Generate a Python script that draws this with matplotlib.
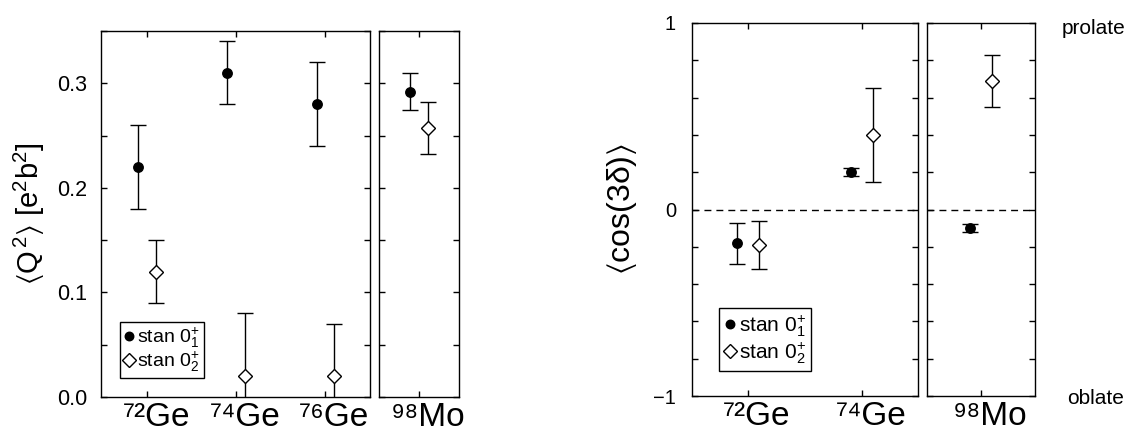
import matplotlib
matplotlib.use('Agg')
import matplotlib.pyplot as plt
import matplotlib.transforms as mtransforms
from matplotlib.ticker import MultipleLocator, FixedLocator, NullLocator
from matplotlib.lines import Line2D

plt.rcParams['font.family'] = ['Liberation Sans', 'DejaVu Sans']
plt.rcParams['mathtext.fontset'] = 'custom'
plt.rcParams['mathtext.rm'] = 'Liberation Sans'
plt.rcParams['mathtext.it'] = 'Liberation Sans:italic'
plt.rcParams['mathtext.default'] = 'regular'

# ---------------- data ----------------
ge_labels_left = ['\u2077\u00b2Ge', '\u2077\u2074Ge', '\u2077\u2076Ge']
mo_labels = ['\u2079\u2078Mo']
ge_labels_right = ['\u2077\u00b2Ge', '\u2077\u2074Ge']

# <Q^2> [e^2 b^2]
q2_ge_s1 = [0.22, 0.31, 0.28]
q2_ge_s1_err = [0.04, 0.03, 0.04]
q2_ge_s2 = [0.12, 0.02, 0.02]
q2_ge_s2_err = [0.03, 0.06, 0.05]
q2_mo_s1 = [0.292]
q2_mo_s1_err = [0.018]
q2_mo_s2 = [0.257]
q2_mo_s2_err = [0.025]

# <cos(3 delta)>
cos_ge_s1 = [-0.18, 0.20]
cos_ge_s1_err = [0.11, 0.02]
cos_ge_s2 = [-0.19, 0.40]
cos_ge_s2_err = [0.13, 0.25]
cos_mo_s1 = [-0.10]
cos_mo_s1_err = [0.02]
cos_mo_s2 = [0.69]
cos_mo_s2_err = [0.14]

legend_labels = [r'stan 0$^{+}_{1}$', r'stan 0$^{+}_{2}$']

# ---------------- style ----------------
OFF = 0.1
MS1, MS2 = 6.8, 7.5
s1_style = dict(fmt='o', color='black', ms=MS1, mfc='black', mec='black',
                ecolor='black', elinewidth=1.0, capsize=5.5, capthick=1.0)
s2_style = dict(fmt='D', color='black', ms=MS2, mfc='white', mec='black', mew=1.0,
                ecolor='black', elinewidth=1.0, capsize=5.5, capthick=1.0)
DASH = (0, (5, 3.6))

fig = plt.figure(figsize=(11.35, 4.33), dpi=100)
W, H = 1135.0, 433.0


def axes_px(x0, x1, ytop, ybot):
    return fig.add_axes([x0 / W, 1 - ybot / H, (x1 - x0) / W, (ybot - ytop) / H])


def style_axes(ax, ysize, ypad):
    ax.tick_params(which='both', direction='in', top=True, right=True,
                   length=4, width=1.0, colors='black')
    ax.tick_params(axis='y', labelsize=ysize, pad=ypad)
    ax.tick_params(axis='x', labelsize=24, pad=3.5)
    for s in ax.spines.values():
        s.set_linewidth(1.0)
    ax.xaxis.set_minor_locator(NullLocator())
    shift = mtransforms.ScaledTranslation(0.09, 0, fig.dpi_scale_trans)
    for lab in ax.get_xticklabels():
        lab.set_transform(lab.get_transform() + shift)


def errplot(ax, xs, ys, es, style):
    ax.errorbar(xs, ys, yerr=es, clip_on=True, **style)


def make_legend(ax, anchor, fs, spacing, bpad):
    h1 = Line2D([], [], ls='none', marker='o', ms=MS1 * 0.9, color='black')
    h2 = Line2D([], [], ls='none', marker='D', ms=MS2 * 0.9, mfc='white',
                mec='black', mew=1.0)
    leg = ax.legend([h1, h2], legend_labels, loc='lower left',
                    bbox_to_anchor=anchor, borderaxespad=0, fontsize=fs,
                    handlelength=0.5, handletextpad=0.2, borderpad=bpad,
                    labelspacing=spacing, fancybox=False, framealpha=1,
                    edgecolor='black')
    leg.get_frame().set_linewidth(1.0)
    return leg

# ---------- left main ----------
axL = axes_px(101, 370, 31, 397)
xg = list(range(1, len(ge_labels_left) + 1))
errplot(axL, [x - OFF for x in xg], q2_ge_s1, q2_ge_s1_err, s1_style)
errplot(axL, [x + OFF for x in xg], q2_ge_s2, q2_ge_s2_err, s2_style)
axL.set_xlim(0.48, 3.5)
axL.set_ylim(0, 0.35)
axL.set_xticks(xg)
axL.set_xticklabels(ge_labels_left)
axL.yaxis.set_major_locator(MultipleLocator(0.1))
axL.yaxis.set_minor_locator(MultipleLocator(0.05))
axL.yaxis.set_major_formatter(plt.FormatStrFormatter('%.1f'))
style_axes(axL, 15.5, 10)
axL.set_ylabel(r'$\langle$Q$^{\,2}\rangle$ [e$^2$b$^2$]', fontsize=21)
axL.yaxis.set_label_coords(-0.20, 0.5)
make_legend(axL, (0.07, 0.052), 14, 0.0, 0.2)

# ---------- left small ----------
axLm = axes_px(379, 459, 31, 397)
errplot(axLm, [-OFF], q2_mo_s1, q2_mo_s1_err, s1_style)
errplot(axLm, [OFF], q2_mo_s2, q2_mo_s2_err, s2_style)
axLm.set_xlim(-0.45, 0.45)
axLm.set_ylim(0, 0.35)
axLm.set_xticks([0])
axLm.set_xticklabels(mo_labels)
axLm.yaxis.set_major_locator(MultipleLocator(0.1))
axLm.yaxis.set_minor_locator(MultipleLocator(0.05))
style_axes(axLm, 15.5, 10)
axLm.tick_params(axis='y', labelleft=False)

# ---------- right main ----------
axR = axes_px(692, 918, 23, 396)
xr = list(range(1, len(ge_labels_right) + 1))
axR.axhline(0, color='black', lw=1.0, ls=DASH, zorder=1)
errplot(axR, [x - OFF for x in xr], cos_ge_s1, cos_ge_s1_err, s1_style)
errplot(axR, [x + OFF for x in xr], cos_ge_s2, cos_ge_s2_err, s2_style)
axR.set_xlim(0.51, 2.49)
axR.set_ylim(-1, 1)
axR.set_xticks(xr)
axR.set_xticklabels(ge_labels_right)
axR.yaxis.set_major_locator(FixedLocator([-1, 0, 1]))
axR.yaxis.set_minor_locator(MultipleLocator(0.2))
axR.yaxis.set_major_formatter(plt.FuncFormatter(
    lambda v, p: '\u2212%d' % abs(v) if v < 0 else '%d' % v))
style_axes(axR, 14.5, 11.5)
axR.set_ylabel(r'$\langle$cos(3$\delta$)$\rangle$', fontsize=23)
axR.yaxis.set_label_coords(-0.235, 0.5)
make_legend(axR, (0.12, 0.067), 15, 0.05, 0.25)

# ---------- right small ----------
axRm = axes_px(927, 1035, 23, 396)
axRm.axhline(0, color='black', lw=1.0, ls=DASH, zorder=1)
errplot(axRm, [-OFF], cos_mo_s1, cos_mo_s1_err, s1_style)
errplot(axRm, [OFF], cos_mo_s2, cos_mo_s2_err, s2_style)
axRm.set_xlim(-0.475, 0.475)
axRm.set_ylim(-1, 1)
axRm.set_xticks([0])
axRm.set_xticklabels(mo_labels)
axRm.yaxis.set_major_locator(FixedLocator([-1, 0, 1]))
axRm.yaxis.set_minor_locator(MultipleLocator(0.2))
style_axes(axRm, 14.5, 11.5)
axRm.tick_params(axis='y', labelleft=False)

fig.text(1062 / W, 1 - 28 / H, 'prolate', fontsize=15, ha='left', va='center')
fig.text(1067 / W, 1 - 398 / H, 'oblate', fontsize=15, ha='left', va='center')

fig.savefig('out.png', dpi=100)
